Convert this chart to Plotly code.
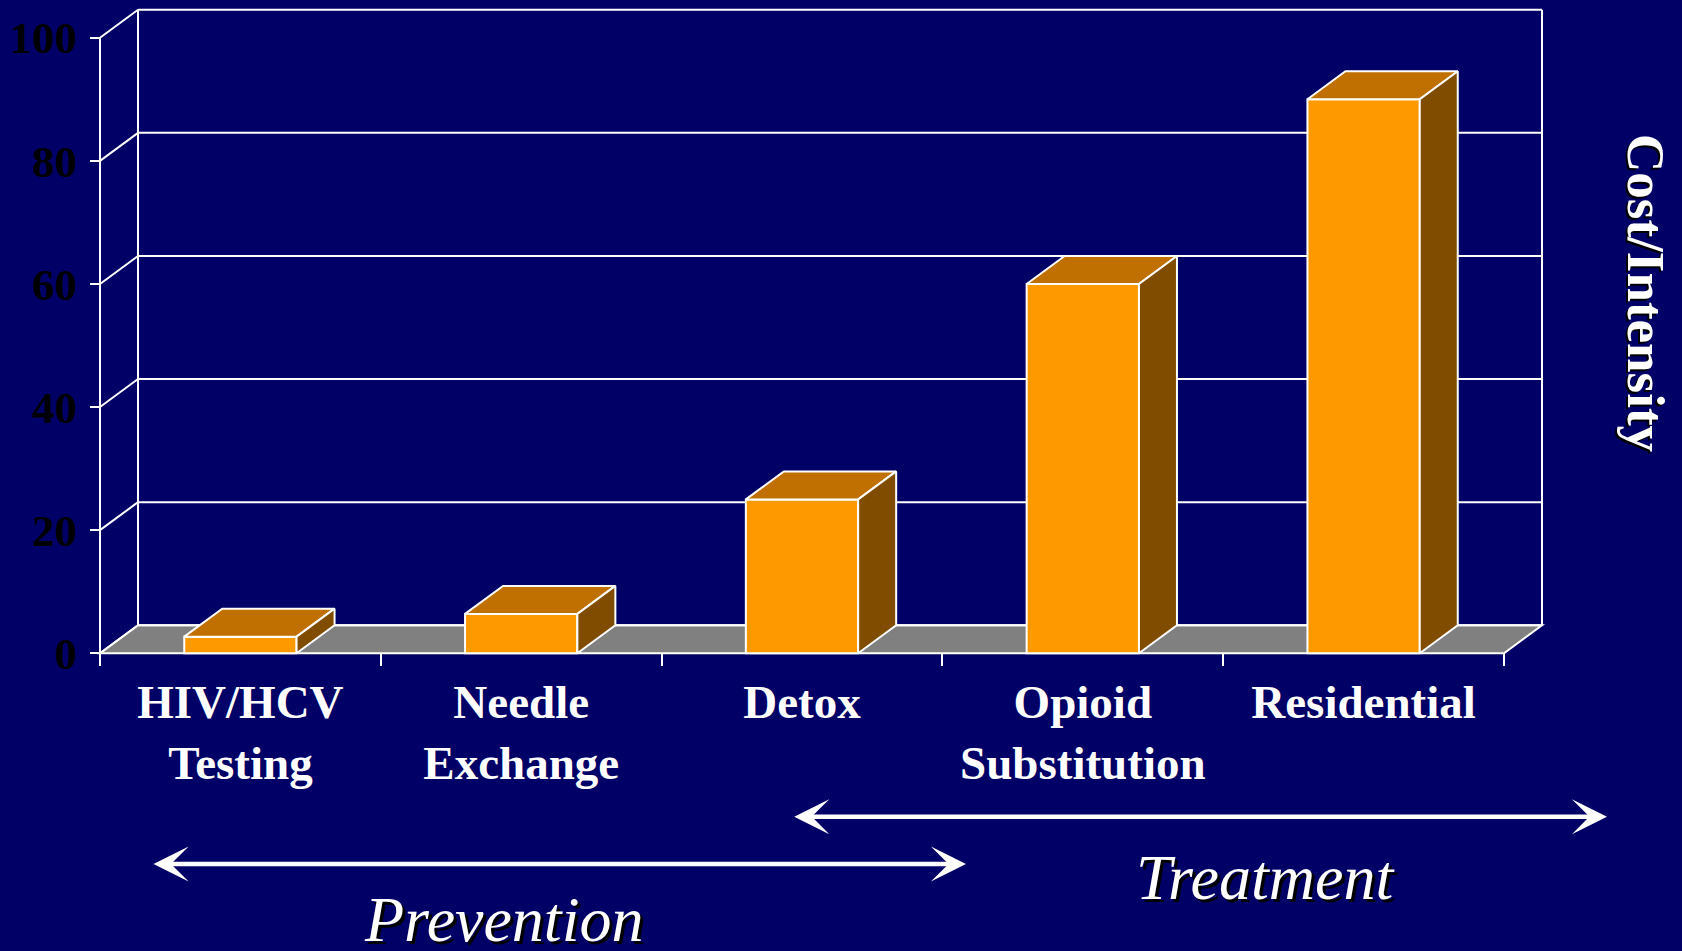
import plotly.graph_objects as go

# data
categories = ["HIV/HCV<br>Testing", "Needle<br>Exchange", "Detox", "Opioid<br>Substitution", "Residential"]
values = [2.7, 6.4, 25, 60, 90]
y_ticks = [0, 20, 40, 60, 80, 100]

# look
W, H = 1682, 951
BG = "#000066"
FRONT = "#FF9900"
TOP = "#C07000"
SIDE = "#7F4C00"
FLOOR = "#808080"
SERIF = "Liberation Serif, Times New Roman, serif"

# pixel frame of the slide (used to map layout positions into data space)
LEFT_PX = 100.0      # front y axis
CAT_PX = 280.8       # width of one category
ZERO_PY = 653.3      # y = 0 on the front face
UNIT_PX = 6.156      # pixels per value unit
DEPTH_X, DEPTH_Y = 38.0, 28.0   # 3d depth offset in pixels


def x_of(px):
    return (px - LEFT_PX) / CAT_PX - 0.5


def y_of(py):
    return (ZERO_PY - py) / UNIT_PX


DX = DEPTH_X / CAT_PX
DY = DEPTH_Y / UNIT_PX
BAR_W = 0.4
X_LO, X_HI = -0.5, len(categories) - 0.5

fig = go.Figure()

# floor and walls
shapes = [dict(type="path", layer="below", xref="x", yref="y",
               path=f"M{X_LO},0 L{X_HI},0 L{X_HI + DX},{DY} L{X_LO + DX},{DY} Z",
               fillcolor=FLOOR, line=dict(color="white", width=2))]
for g in y_ticks:
    shapes.append(dict(type="line", layer="below", xref="x", yref="y",
                       x0=X_LO + DX, x1=X_HI + DX, y0=g + DY, y1=g + DY,
                       line=dict(color="white", width=2)))
    shapes.append(dict(type="line", layer="below", xref="x", yref="y",
                       x0=X_LO, x1=X_LO + DX, y0=g, y1=g + DY,
                       line=dict(color="white", width=2)))
for xx in (X_LO + DX, X_HI + DX):
    shapes.append(dict(type="line", layer="below", xref="x", yref="y",
                       x0=xx, x1=xx, y0=DY, y1=y_ticks[-1] + DY,
                       line=dict(color="white", width=2)))
shapes.append(dict(type="line", layer="below", xref="x", yref="y",
                   x0=X_LO, x1=X_LO, y0=0, y1=y_ticks[-1],
                   line=dict(color="white", width=2)))

# bar fronts
fig.add_trace(go.Bar(
    x=list(range(len(categories))), y=values, width=BAR_W,
    marker=dict(color=FRONT, line=dict(color="white", width=2)),
    hoverinfo="skip"
))

# bar tops and sides
for i, v in enumerate(values):
    l, r = i - BAR_W / 2, i + BAR_W / 2
    fig.add_trace(go.Scatter(
        x=[l, r, r + DX, l + DX, l], y=[v, v, v + DY, v + DY, v],
        mode="lines", fill="toself", fillcolor=TOP,
        line=dict(color="white", width=2), hoverinfo="skip"))
    fig.add_trace(go.Scatter(
        x=[r, r, r + DX, r + DX, r], y=[0, v, v + DY, DY, 0],
        mode="lines", fill="toself", fillcolor=SIDE,
        line=dict(color="white", width=2), hoverinfo="skip"))

annotations = [
    dict(text="<b>Cost/Intensity</b>", xref="paper", yref="paper",
         x=1646 / W, y=1 - 293 / H, xanchor="center", yanchor="middle",
         textangle=90, showarrow=False,
         font=dict(family=SERIF, size=53, color="white", shadow="2px 2px 0px black")),
    dict(text="<i>Treatment</i>", xref="paper", yref="paper",
         x=1265 / W, y=1 - 877 / H, xanchor="center", yanchor="middle", showarrow=False,
         font=dict(family=SERIF, size=64, color="white", shadow="3px 3px 0px black")),
    dict(text="<i>Prevention</i>", xref="paper", yref="paper",
         x=503 / W, y=1 - 919 / H, xanchor="center", yanchor="middle", showarrow=False,
         font=dict(family=SERIF, size=64, color="white", shadow="3px 3px 0px black")),
]
# double-headed range arrows
for (x0, x1, py) in [(792.7, 1607, 816.7), (152, 966, 864)]:
    annotations.append(dict(
        text="", x=x_of(x1), y=y_of(py), ax=x_of(x0), ay=y_of(py),
        xref="x", yref="y", axref="x", ayref="y",
        showarrow=True, arrowside="end+start", arrowhead=3, startarrowhead=3,
        arrowsize=1.3, startarrowsize=1.3, arrowwidth=4.5, arrowcolor="white",
        standoff=0, startstandoff=0))

fig.update_layout(
    width=W, height=H,
    margin=dict(l=0, r=0, t=0, b=0),
    paper_bgcolor=BG, plot_bgcolor=BG,
    showlegend=False,
    shapes=shapes,
    annotations=annotations,
    xaxis=dict(
        range=[x_of(0), x_of(W)], anchor="free", position=(H - ZERO_PY) / H,
        showgrid=False, zeroline=False, showline=False,
        tickvals=list(range(len(categories))), ticktext=[f"<b>{c}</b>" for c in categories],
        ticks="", ticklabelstandoff=17,
        tickfont=dict(family=SERIF, size=47, color="white"),
        minor=dict(tickvals=[k - 0.5 for k in range(len(categories) + 1)],
                   ticks="outside", ticklen=12, tickwidth=2, tickcolor="white"),
        fixedrange=True,
    ),
    yaxis=dict(
        range=[y_of(H), y_of(0)], anchor="free", position=LEFT_PX / W,
        showgrid=False, zeroline=False, showline=False,
        tickvals=y_ticks, ticktext=[f"<b>{t}</b>" for t in y_ticks],
        ticks="outside", ticklen=10, tickwidth=2, tickcolor="white",
        ticklabelstandoff=4,
        tickfont=dict(family=SERIF, size=45, color="black"),
        fixedrange=True,
    ),
)

fig.write_html("out.html", config={"displayModeBar": False},
               post_script="document.body.style.margin='0';")
